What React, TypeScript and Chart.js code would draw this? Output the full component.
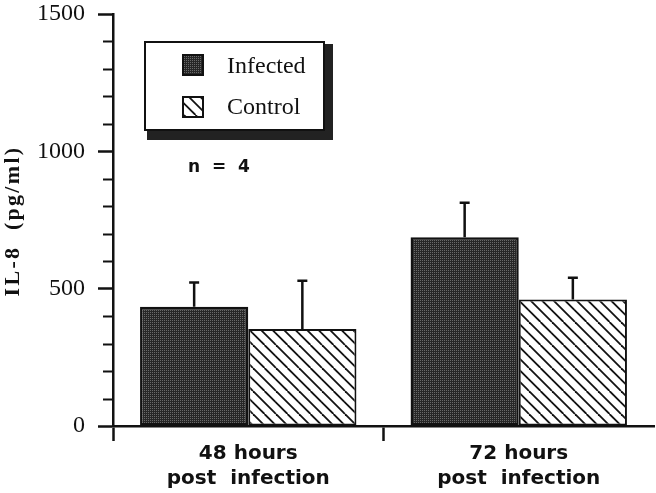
import React, { useEffect, useRef } from "react";
import { Chart, registerables } from "chart.js";
Chart.register(...registerables);

const categories = [
  ["48 hours", "post  infection"],
  ["72 hours", "post  infection"],
];
const seriesNames = ["Infected", "Control"];
const infectedMeans = [434, 687];
const infectedErrors = [88, 126];
const controlMeans = [353, 461];
const controlErrors = [176, 79];
const yTickValues = [0, 500, 1000, 1500];
const minorTickValues = [100, 200, 300, 400, 600, 700, 800, 900, 1100, 1200, 1300, 1400];
const annotationText = "n  =  4";
const yTitle = "IL-8  (pg/ml)";

const INK = "#111";

function makeStipple(): CanvasPattern {
  const c = document.createElement("canvas");
  c.width = 2;
  c.height = 2;
  const x = c.getContext("2d")!;
  x.fillStyle = "#272727";
  x.fillRect(0, 0, 2, 2);
  x.fillStyle = "#6a6a6a";
  x.fillRect(0, 0, 1, 1);
  return x.createPattern(c, "repeat")!;
}

function makeHatch(): CanvasPattern {
  const s = 23;
  const c = document.createElement("canvas");
  c.width = s;
  c.height = s;
  const x = c.getContext("2d")!;
  x.fillStyle = "#fff";
  x.fillRect(0, 0, s, s);
  x.strokeStyle = INK;
  x.lineWidth = 1.8;
  for (const o of [-s, -s / 2, 0, s / 2, s]) {
    x.beginPath();
    x.moveTo(o, 0);
    x.lineTo(o + s, s);
    x.stroke();
  }
  return x.createPattern(c, "repeat")!;
}

const errorBarPlugin = {
  id: "errorBars",
  afterDatasetsDraw(chart: any) {
    const ctx = chart.ctx;
    const yScale = chart.scales.y;
    chart.data.datasets.forEach((ds: any, i: number) => {
      const meta = chart.getDatasetMeta(i);
      meta.data.forEach((el: any, j: number) => {
        const v = ds.data[j];
        const e = ds.errors[j];
        const yTop = yScale.getPixelForValue(v + e);
        const yBase = yScale.getPixelForValue(v);
        ctx.save();
        ctx.strokeStyle = INK;
        ctx.lineWidth = 2.5;
        ctx.beginPath();
        ctx.moveTo(el.x, yBase);
        ctx.lineTo(el.x, yTop);
        ctx.moveTo(el.x - 5, yTop);
        ctx.lineTo(el.x + 5, yTop);
        ctx.stroke();
        ctx.restore();
      });
    });
  },
};

const decorPlugin = {
  id: "decor",
  afterDraw(chart: any) {
    const ctx = chart.ctx;
    const yScale = chart.scales.y;
    const left = chart.chartArea.left;
    ctx.save();
    // minor ticks
    ctx.strokeStyle = INK;
    ctx.lineWidth = 2;
    minorTickValues.forEach((v) => {
      const y = Math.round(yScale.getPixelForValue(v)) + 0.5;
      ctx.beginPath();
      ctx.moveTo(left - 10, y);
      ctx.lineTo(left, y);
      ctx.stroke();
    });

    // y title
    ctx.save();
    ctx.translate(19, 221);
    ctx.rotate(-Math.PI / 2);
    ctx.fillStyle = INK;
    ctx.font = "bold 22px 'Liberation Serif'";
    (ctx as any).letterSpacing = "2.3px";
    ctx.textAlign = "center";
    ctx.textBaseline = "alphabetic";
    ctx.fillText(yTitle, 0, 0);
    ctx.restore();

    // legend box
    const bx = 145, by = 42, bw = 179, bh = 88;
    ctx.fillStyle = "#222";
    ctx.fillRect(bx + 2, by + 2, bw + 7, bh + 8);
    ctx.fillStyle = "#fff";
    ctx.fillRect(bx, by, bw, bh);
    ctx.strokeStyle = INK;
    ctx.lineWidth = 2;
    ctx.strokeRect(bx, by, bw, bh);

    const rows = [
      { sy: 55, base: 73 },
      { sy: 97, base: 114 },
    ];
    chart.data.datasets.forEach((ds: any, i: number) => {
      const r = rows[i];
      ctx.fillStyle = ds.backgroundColor;
      ctx.fillRect(183, r.sy, 20, 20);
      ctx.strokeStyle = INK;
      ctx.lineWidth = 2;
      ctx.strokeRect(183, r.sy, 20, 20);
      ctx.fillStyle = INK;
      ctx.font = "24px 'Liberation Serif'";
      ctx.textAlign = "left";
      ctx.textBaseline = "alphabetic";
      ctx.fillText(ds.label, 227, r.base);
    });

    // n = 4
    ctx.fillStyle = INK;
    ctx.font = "bold 17px 'DejaVu Sans'";
    ctx.textAlign = "left";
    ctx.textBaseline = "alphabetic";
    ctx.fillText(annotationText, 188, 172);
    ctx.restore();
  },
};

export default function App() {
  const ref = useRef<HTMLCanvasElement | null>(null);
  useEffect(() => {
    if (!ref.current) return;
    const stipple = makeStipple();
    const hatch = makeHatch();
    const chart = new Chart(ref.current, {
      type: "bar",
      data: {
        labels: categories as any,
        datasets: [
          {
            label: seriesNames[0],
            data: infectedMeans,
            errors: infectedErrors,
            backgroundColor: stipple as any,
            borderColor: INK,
            borderWidth: 2.5,
            borderSkipped: false,
            categoryPercentage: 0.8,
            barPercentage: 1.0,
          } as any,
          {
            label: seriesNames[1],
            data: controlMeans,
            errors: controlErrors,
            backgroundColor: hatch as any,
            borderColor: INK,
            borderWidth: 2,
            borderSkipped: false,
            categoryPercentage: 0.8,
            barPercentage: 1.0,
          } as any,
        ],
      },
      options: {
        animation: false,
        responsive: false,
        devicePixelRatio: 1,
        layout: { padding: { top: 14, right: 2, left: 0, bottom: 0 } },
        plugins: {
          legend: { display: false },
          tooltip: { enabled: false },
          title: { display: false },
        },
        scales: {
          x: {
            type: "category",
            offset: true,
            grid: {
              display: true,
              offset: true,
              drawOnChartArea: false,
              drawTicks: true,
              tickLength: 15,
              tickWidth: 2.5,
              tickColor: (c: any) => (c.type === "tick" ? INK : "rgba(0,0,0,0)"),
            },
            border: { display: true, color: INK, width: 2.5 },
            ticks: {
              color: INK,
              font: { family: "DejaVu Sans", weight: "bold", size: 20, lineHeight: 1.25 },
              padding: 0,
              maxRotation: 0,
              autoSkip: false,
            },
            afterFit: (s: any) => {
              s.height = 67;
              s.paddingLeft = 0;
              s.paddingRight = 0;
            },
          },
          y: {
            min: 0,
            max: 1500,
            afterBuildTicks: (s: any) => {
              s.ticks = yTickValues.map((v) => ({ value: v }));
            },
            grid: {
              drawOnChartArea: false,
              drawTicks: true,
              tickLength: 15,
              tickWidth: 2.5,
              tickColor: INK,
            },
            border: { display: true, color: INK, width: 2.5 },
            ticks: {
              color: INK,
              font: { family: "Liberation Serif", size: 24 },
              padding: 13,
              callback: (v: any) => String(v),
            },
            afterFit: (s: any) => {
              s.width = 113;
              s.paddingTop = 0;
              s.paddingBottom = 0;
            },
          },
        },
      } as any,
      plugins: [errorBarPlugin, decorPlugin],
    });
    return () => chart.destroy();
  }, []);
  return (
    <div style={{ position: "absolute", left: 0, top: 0, width: 656, height: 493, background: "#fff" }}>
      <canvas ref={ref} width={656} height={493} style={{ display: "block" }} />
    </div>
  );
}
